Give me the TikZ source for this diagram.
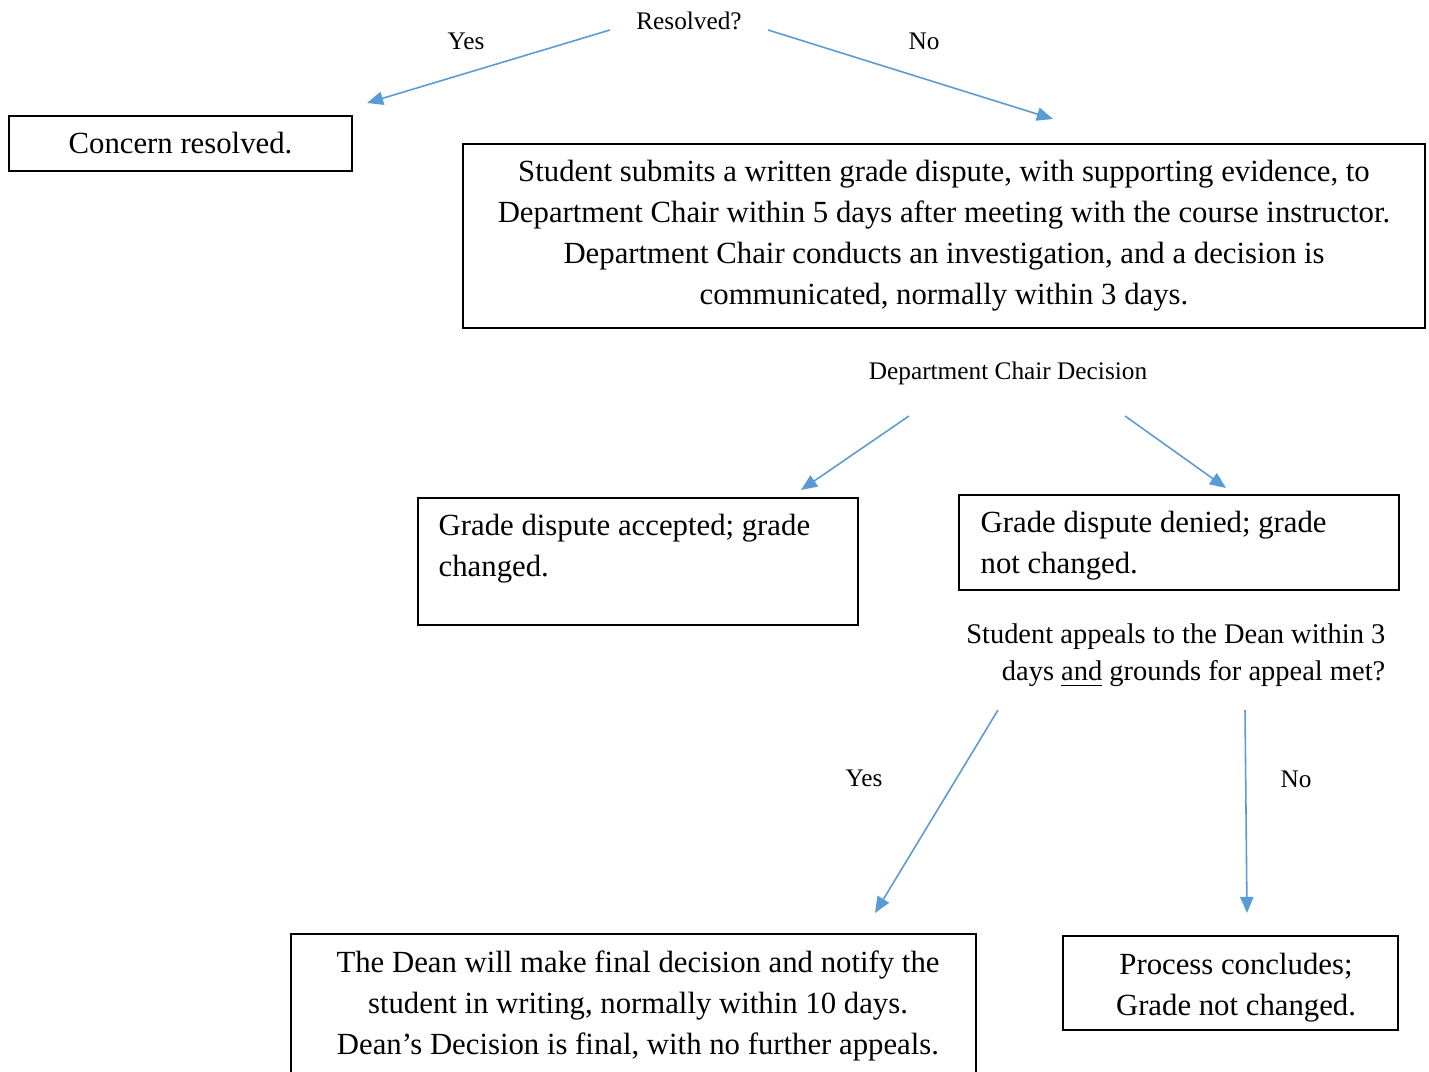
\documentclass[tikz,border=0pt]{standalone}
\usepackage{fontspec}
\setmainfont{Liberation Serif}
\usetikzlibrary{positioning}
\usetikzlibrary{arrows.meta}
\definecolor{flowblue}{HTML}{5B9BD5}
\tikzset{
    box/.style = {rectangle, draw=black, semithick, align=center, inner sep=0pt, font=\fontsize{8.75}{11.67}\selectfont},
    boxtext/.style = {align=left, inner sep=0pt, font=\fontsize{8.75}{11.67}\selectfont},
    lbl/.style = {inner sep=0pt, font=\fontsize{7.2}{9}\selectfont},
    qlbl/.style = {inner sep=0pt, align=right, font=\fontsize{8.1}{10.5}\selectfont},
    arr/.style = {-{Triangle[length=4.6pt,width=3.8pt]}, draw=flowblue, line width=0.45pt},
}

\begin{document}
\begin{tikzpicture}
\path[use as bounding box, clip] (0,0) rectangle (14.29,-10.72);
\node[lbl] at (6.89,-0.21) (resolved) {Resolved?};
\node[lbl] at (4.66,-0.41) (yes1) {Yes};
\node[lbl] at (9.24,-0.41) (no1) {No};
\node[box, minimum width=3.43cm, minimum height=0.55cm] at (1.805,-1.435) (concern) {Concern resolved.};
\node[box, minimum width=9.62cm, minimum height=1.84cm] at (9.44,-2.36) (dispute) {Student submits a written grade dispute, with supporting evidence, to\\
Department Chair within 5 days after meeting with the course instructor.\\
Department Chair conducts an investigation, and a decision is\\
communicated, normally within 3 days.};
\node[lbl] at (10.08,-3.73) (chair) {Department Chair Decision};
\node[box, minimum width=4.40cm, minimum height=1.27cm, anchor=north west] at (4.17,-4.97) (accepted) {};
\node[boxtext, anchor=north west] at (4.38,-5.13) (acceptedtext) {Grade dispute accepted; grade\\ changed.};
\node[box, minimum width=4.40cm, minimum height=0.95cm, anchor=north west] at (9.58,-4.94) (denied) {};
\node[boxtext, anchor=north west] at (9.80,-5.10) (deniedtext) {Grade dispute denied; grade\\ not changed.};
\node[qlbl, anchor=east] at (13.86,-6.555) (appeal) {Student appeals to the Dean within 3\\ days \underline{and} grounds for appeal met?};
\node[lbl] at (8.64,-7.78) (yes2) {Yes};
\node[lbl] at (12.96,-7.79) (no2) {No};
\node[box, minimum width=6.85cm, minimum height=1.7cm, anchor=north west] at (2.90,-9.33) (dean) {};
\node[boxtext, align=center] at (6.38,-10.06) (deantext) {The Dean will make final decision and notify the\\
student in writing, normally within 10 days.\\
Dean’s Decision is final, with no further appeals.};
\node[box, minimum width=3.35cm, minimum height=0.94cm] at (12.305,-9.83) (concludes) {};
\node[boxtext, align=center] at (12.36,-9.88) (concludestext) {Process concludes;\\ Grade not changed.};
\coordinate (resyes) at (6.10,-0.30);
\coordinate (resyesend) at (3.67,-1.03);
\coordinate (resno) at (7.68,-0.30);
\coordinate (resnoend) at (10.53,-1.19);
\coordinate (chairacc) at (9.09,-4.16);
\coordinate (chairaccend) at (8.01,-4.90);
\coordinate (chairden) at (11.25,-4.16);
\coordinate (chairdenend) at (12.26,-4.88);
\coordinate (appyes) at (9.98,-7.10);
\coordinate (appyesend) at (8.75,-9.13);
\coordinate (appno) at (12.45,-7.10);
\coordinate (appnoend) at (12.47,-9.13);
\draw[arr] (resyes) -- (resyesend);
\draw[arr] (resno) -- (resnoend);
\draw[arr] (chairacc) -- (chairaccend);
\draw[arr] (chairden) -- (chairdenend);
\draw[arr] (appyes) -- (appyesend);
\draw[arr] (appno) -- (appnoend);
\end{tikzpicture}
\end{document}
